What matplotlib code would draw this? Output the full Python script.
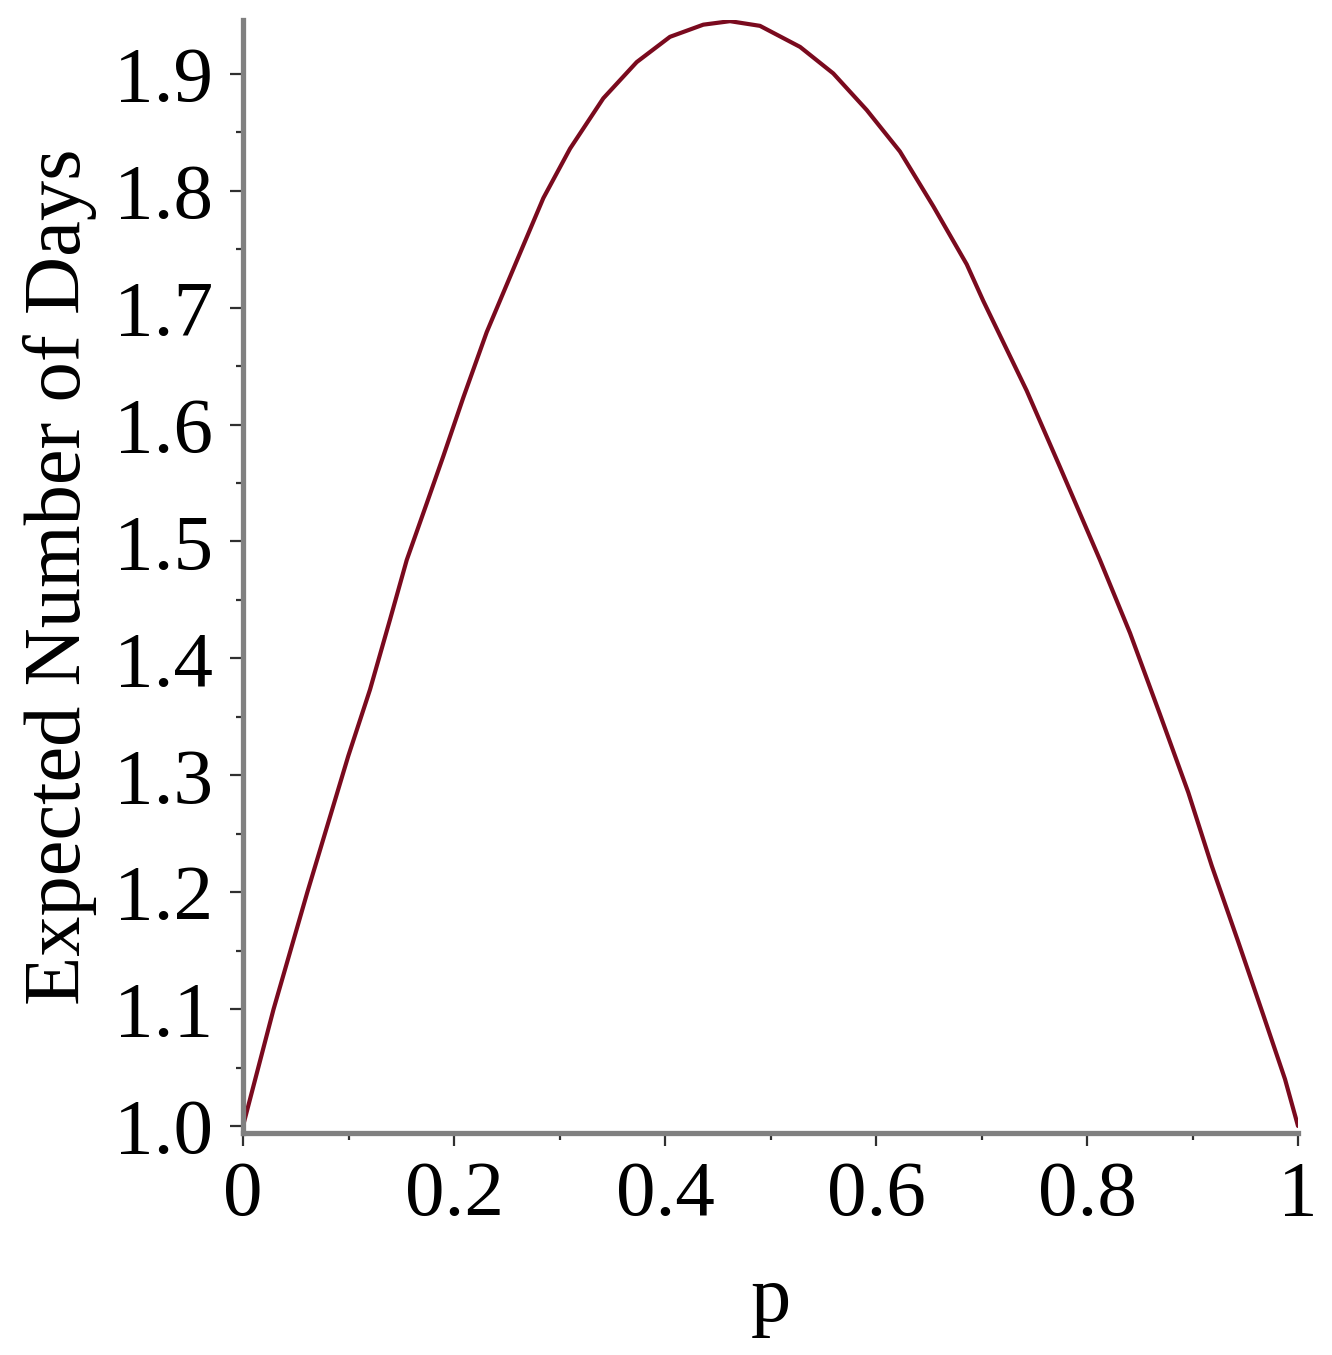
import matplotlib
matplotlib.use('Agg')
import matplotlib.pyplot as plt
from matplotlib.ticker import MultipleLocator, FixedFormatter, FixedLocator

# values
p = [0.0, 0.029, 0.061, 0.0998, 0.1204, 0.1393, 0.1552, 0.1741, 0.1899, 0.2088,
     0.231, 0.2594, 0.2847, 0.310, 0.3415, 0.3732, 0.4047, 0.4363, 0.4616, 0.490,
     0.528, 0.5595, 0.5912, 0.6227, 0.6543, 0.686, 0.7017, 0.7428, 0.7744, 0.8123,
     0.8408, 0.8692, 0.896, 0.9182, 0.9434, 0.9671, 0.9877, 1.0]
expected_days = [1.0, 1.1, 1.2, 1.3165, 1.3733, 1.433, 1.4841, 1.5324, 1.573, 1.623,
                 1.679, 1.7398, 1.7937, 1.836, 1.879, 1.910, 1.9316, 1.942, 1.945, 1.941,
                 1.923, 1.9003, 1.869, 1.8335, 1.7867, 1.737, 1.7057, 1.629, 1.5636, 1.4841,
                 1.4216, 1.352, 1.2853, 1.2227, 1.1574, 1.0949, 1.040, 1.0]

x_ticks = [0, 0.2, 0.4, 0.6, 0.8, 1.0]
x_tick_labels = ['0', '0.2', '0.4', '0.6', '0.8', '1']
y_ticks = [1.0, 1.1, 1.2, 1.3, 1.4, 1.5, 1.6, 1.7, 1.8, 1.9]
y_tick_labels = ['1.0', '1.1', '1.2', '1.3', '1.4', '1.5', '1.6', '1.7', '1.8', '1.9']

plt.rcParams['font.family'] = ['Liberation Serif', 'DejaVu Serif']

fig = plt.figure(figsize=(13.32, 13.55), dpi=100)
ax = fig.add_axes([243 / 1332, 1 - 1133 / 1355, (1298 - 243) / 1332, (1133 - 20) / 1355])

ax.plot(p, expected_days, color='#7a0a1e', lw=3.0, solid_joinstyle='round',
        solid_capstyle='round')

ax.set_xlim(0, 1)
ax.set_ylim(0.994, 1.946)

for side in ['top', 'right']:
    ax.spines[side].set_visible(False)
for side in ['left', 'bottom']:
    ax.spines[side].set_color('#808080')
    ax.spines[side].set_linewidth(3.8)

ax.xaxis.set_major_locator(FixedLocator(x_ticks))
ax.xaxis.set_major_formatter(FixedFormatter(x_tick_labels))
ax.xaxis.set_minor_locator(MultipleLocator(0.1))
ax.yaxis.set_major_locator(FixedLocator(y_ticks))
ax.yaxis.set_major_formatter(FixedFormatter(y_tick_labels))
ax.yaxis.set_minor_locator(MultipleLocator(0.05))

ax.tick_params(axis='both', which='major', direction='out', length=9.5, width=1.6,
               color='#303030', labelsize=57)
ax.tick_params(axis='both', which='minor', direction='out', length=5, width=1.6,
               color='#303030')
ax.tick_params(axis='x', which='major', pad=10)
ax.tick_params(axis='y', which='major', pad=12)

ax.set_xlabel('p', fontsize=58, labelpad=24)
ax.set_ylabel('Expected Number of Days', fontsize=58, labelpad=12)

fig.savefig('out.png', dpi=100, facecolor='white')
